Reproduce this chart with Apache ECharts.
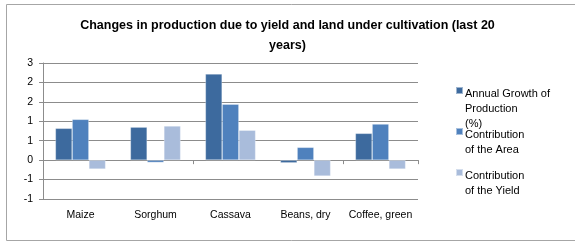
<!DOCTYPE html>
<html>
<head>
<meta charset="utf-8">
<script src="https://cdn.jsdelivr.net/npm/echarts@6/dist/echarts.min.js"></script>
<style>
    html, body { margin: 0; padding: 0; background: #fff; }
    #chart { width: 575px; height: 242px; }
</style>
</head>
<body>
<div id="chart"></div>
<script>
const categories = ["Maize", "Sorghum", "Cassava", "Beans, dry", "Coffee, green"];
const annualGrowth = [0.82, 0.85, 2.22, -0.07, 0.69];
const areaContribution = [1.05, -0.06, 1.44, 0.33, 0.93];
const yieldContribution = [-0.23, 0.88, 0.77, -0.41, -0.23];
// excel rounds the 0.5 steps, so labels repeat (bottom to top)
const yTickLabels = ["-1", "-1", "0", "1", "1", "2", "2", "3"];

const seriesNames = ["Annual Growth of\nProduction\n(%)", "Contribution\nof the Area", "Contribution\nof the Yield"];
const colors = ["#3D6A9E", "#4F81BD", "#A9BCDB"];

const font = "Liberation Sans";
// square on the first text line, a stray point stretches the box down
const legendIcon = (h) => "path://M0,0H7V7H0Z M0," + h + "L0," + h + "Z";
const legendTops = [86, 127, 168];
const legendHeights = [44, 29, 29];

let chart = echarts.init(document.getElementById("chart"), null, { renderer: "canvas" });

let option = {
    animation: false,
    title: {
        text: "Changes in production due to yield and land under cultivation (last 20\nyears)",
        left: "center",
        top: 13,
        padding: [3, 0, 3, 15],
        textStyle: { fontFamily: font, fontSize: 12.5, fontWeight: "bold", color: "#000", lineHeight: 20 },
    },
    graphic: [{
        type: "rect",
        shape: { x: 6.5, y: 4.5, width: 600, height: 236 },
        style: { fill: "none", stroke: "#a6a6a6", lineWidth: 1 },
        silent: true,
    }],
    legend: seriesNames.map((name, i) => ({
        data: [{ name: name, icon: legendIcon(legendHeights[i]) }],
        left: 455,
        top: legendTops[i],
        padding: 0,
        itemWidth: 7,
        itemHeight: legendHeights[i],
        itemGap: 2,
        selectedMode: false,
        textStyle: { fontFamily: font, fontSize: 11, color: "#000", lineHeight: 15, padding: [0, 0, 0, -3] },
    })),
    grid: { left: 43, right: 157, top: 63, bottom: 43 },
    xAxis: [{
        type: "category",
        data: categories,
        position: "bottom",
        axisLine: { show: false, onZero: false },
        axisTick: { show: false },
        axisLabel: { fontFamily: font, fontSize: 10.5, color: "#000", margin: 11, interval: 0 },
    }, {
        type: "category",
        data: categories,
        position: "bottom",
        axisLine: { show: true, onZero: true, lineStyle: { color: "#8c8c8c" } },
        axisTick: { show: true, length: 4, lineStyle: { color: "#8c8c8c" } },
        axisLabel: { show: false },
    }],
    yAxis: {
        type: "value",
        min: -1,
        max: 2.5,
        interval: 0.5,
        axisLine: { show: true, lineStyle: { color: "#8c8c8c" } },
        axisTick: { show: true, length: 4, lineStyle: { color: "#8c8c8c" } },
        axisLabel: {
            fontFamily: font, fontSize: 10.5, color: "#000", margin: 10,
            formatter: (v, i) => yTickLabels[i],
        },
        splitLine: { lineStyle: { color: "#8c8c8c", width: 1 } },
    },
    series: [annualGrowth, areaContribution, yieldContribution].map((d, i) => ({
        name: seriesNames[i],
        type: "bar",
        data: d,
        barGap: "0%",
        barCategoryGap: "33%",
        itemStyle: { color: colors[i], borderColor: "rgba(255,255,255,0.5)", borderWidth: 0.6 },
    })),
};

chart.setOption(option);
</script>
</body>
</html>
